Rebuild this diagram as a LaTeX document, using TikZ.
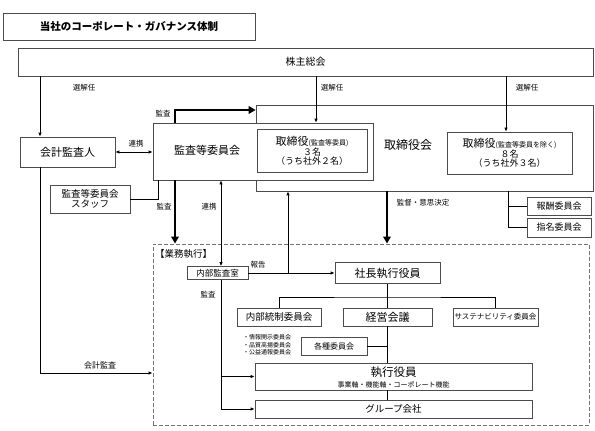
\documentclass[tikz,border=0pt]{standalone}
\usepackage{fontspec}
\setmainfont{Noto Sans CJK JP}
\usetikzlibrary{arrows.meta}
\newcommand\fsz[1]{\fontsize{#1}{#1}\selectfont}
\begin{document}
\begin{tikzpicture}[x=1pt,y=-1pt,
  box/.style={draw=black!70, fill=white, inner sep=0pt, line width=0.7pt, align=center},
  arr/.style={-{Latex[length=4pt,width=3.5pt]}, line width=0.8pt},
  darr/.style={{Latex[length=4pt,width=3.5pt]}-{Latex[length=4pt,width=3.5pt]}, line width=0.8pt},
  thk/.style={-{Triangle[length=7pt,width=7.5pt]}, line width=2.4pt},
  ln/.style={line width=0.8pt},
  lbl/.style={inner sep=0pt, font=\fsz{7.5}}]
\useasboundingbox (0,0) rectangle (595,431);
% title
\node[box, minimum width=252pt, minimum height=27pt, font=\fsz{10.5}\bfseries] (title) at (129,26.5) {当社のコーポレート・ガバナンス体制};
% shareholders
\node[box, minimum width=575pt, minimum height=28pt, font=\fsz{10}] (kabu) at (305.5,62) {株主総会};
% auditor
\node[box, minimum width=95pt, minimum height=30pt, font=\fsz{11}] (kaikei) at (67.5,152) {会計監査人};
% board
\node[box, minimum width=337pt, minimum height=86pt] (tkai) at (424.5,148) {};
\node[inner sep=0pt, font=\fsz{12}] (tkaiT) at (408,145) {取締役会};
\node[box, minimum width=220pt, minimum height=57pt] (kansa) at (263,151.5) {};
\node[inner sep=0pt, font=\fsz{11}] (kansaT) at (207,150) {監査等委員会};
\node[box, minimum width=110pt, minimum height=43pt, font=\fsz{9}] (tori1) at (312,150.5)
  {{\fsz{11}取締役}{\fsz{7}(監査等委員)}\\[1pt]３名\\（うち社外２名）};
\node[box, minimum width=125pt, minimum height=42pt, font=\fsz{9}] (tori2) at (509.5,153)
  {{\fsz{11}取締役}{\fsz{7}(監査等委員を除く)}\\[1pt]８名\\（うち社外３名）};
\node[box, minimum width=80pt, minimum height=28pt, font=\fsz{9.5}] (staff) at (90,199)
  {監査等委員会\\[1pt]スタッフ};
\node[box, minimum width=64pt, minimum height=18pt, font=\fsz{9}] (hoshu) at (559,206) {報酬委員会};
\node[box, minimum width=64pt, minimum height=19pt, font=\fsz{9}] (shimei) at (559,227.5) {指名委員会};
% execution area
\node[draw=black!55, dashed, dash pattern=on 4pt off 2pt, line width=0.9pt, minimum width=436pt, minimum height=181pt, inner sep=0pt] (gyomu) at (371,334.5) {};
\node[inner sep=0pt, anchor=west, font=\fsz{9.5}] (gyomuT) at (155,254) {【業務執行】};
\node[box, minimum width=61pt, minimum height=13pt, font=\fsz{8.5}] (naibu) at (217.5,273) {内部監査室};
\node[box, minimum width=105pt, minimum height=21pt, font=\fsz{11}] (shacho) at (387.5,273) {社長執行役員};
\node[box, minimum width=84pt, minimum height=18pt, font=\fsz{9.5}] (naitou) at (279,317) {内部統制委員会};
\node[box, minimum width=89pt, minimum height=18pt, font=\fsz{11}] (keiei) at (387.5,317) {経営会議};
\node[box, minimum width=85pt, minimum height=18pt, font=\fsz{7.5}] (sus) at (495.5,317) {サステナビリティ委員会};
\node[box, minimum width=66pt, minimum height=18pt, font=\fsz{8}] (kakushu) at (334,346) {各種委員会};
\node[inner sep=0pt, anchor=west, align=left, font=\fsz{6}] (list) at (243,345) {・情報開示委員会\\[1.3pt]・品質高揚委員会\\[1.3pt]・公益通報委員会};
\node[box, minimum width=277pt, minimum height=27pt] (shikko) at (393.5,376.5) {};
\node[inner sep=0pt, font=\fsz{11.5}] (shikkoT) at (393.5,372) {執行役員};
\node[inner sep=0pt, font=\fsz{7}] (shikkoS) at (393.5,385) {事業軸・機能軸・コーポレート機能};
\node[box, minimum width=277pt, minimum height=18pt, font=\fsz{9.5}] (group) at (393.5,409) {グループ会社};
% connectors from shareholders
\draw[arr] (kabu.south -| 40,0) -- (kaikei.north -| 40,0);
\draw[arr] (kabu.south -| 316,0) -- (kansa.north -| 316,0);
\draw[arr] (kabu.south -| 506,0) -- (tori2.north -| 506,0);
\node[lbl] (l1) at (84,88) {選解任};
\node[lbl] (l2) at (332,88) {選解任};
\node[lbl] (l3) at (527,88) {選解任};
% audit arrows
\draw[thk] (kansa.north -| 175,0) |- (tkai.west |- 0,110);
\node[lbl] (l4) at (163,114) {監査};
\draw[darr] (kaikei.east) -- (kansa.west |- kaikei.east);
\node[lbl] (l5) at (136,143.5) {連携};
\draw[ln] (staff.east) -| (kansa.south -| 158,0);
\draw[thk] (kansa.south -| 175,0) -- (gyomu.north -| 175,0);
\node[lbl] (l6) at (164,207) {監査};
\draw[darr] (kansa.south -| 221,0) -- (naibu.north -| 221,0);
\node[lbl] (l7) at (209,207) {連携};
\draw[thk] (tkai.south -| 387,0) -- (gyomu.north -| 387,0);
\node[lbl] (l8) at (423,202.5) {監督・意思決定};
\draw[ln] (tkai.south -| 508,0) |- (hoshu.west);
\draw[ln] (tkai.south -| 508,0) |- (shimei.west);
% report
\draw[arr] (naibu.east) -- (shacho.west);
\draw[arr] (naibu.east -| 288,0) -- (tkai.south -| 288,0);
\node[lbl] (l9) at (258,265) {報告};
% execution tree
\draw[ln] (shacho.south) -- (keiei.north);
\draw[ln] (naitou.north) |- (shacho.south |- 0,297) -| (sus.north);
\draw[ln] (keiei.south) -- (shikko.north -| keiei.south);
\draw[ln] (shikko.south -| keiei.south) -- (group.north -| keiei.south);
\draw[ln] (kakushu.east) -- (kakushu.east -| keiei.south);
\draw[arr] (naibu.south -| 221,0) |- (shikko.west);
\draw[arr] (naibu.south -| 221,0) |- (group.west);
\node[lbl] (l10) at (208,294.5) {監査};
% accounting audit
\draw[arr] (kaikei.south -| 40,0) |- (gyomu.west |- 0,373);
\node[lbl, font=\fsz{8}] (l11) at (100,365.5) {会計監査};
\end{tikzpicture}
\end{document}
